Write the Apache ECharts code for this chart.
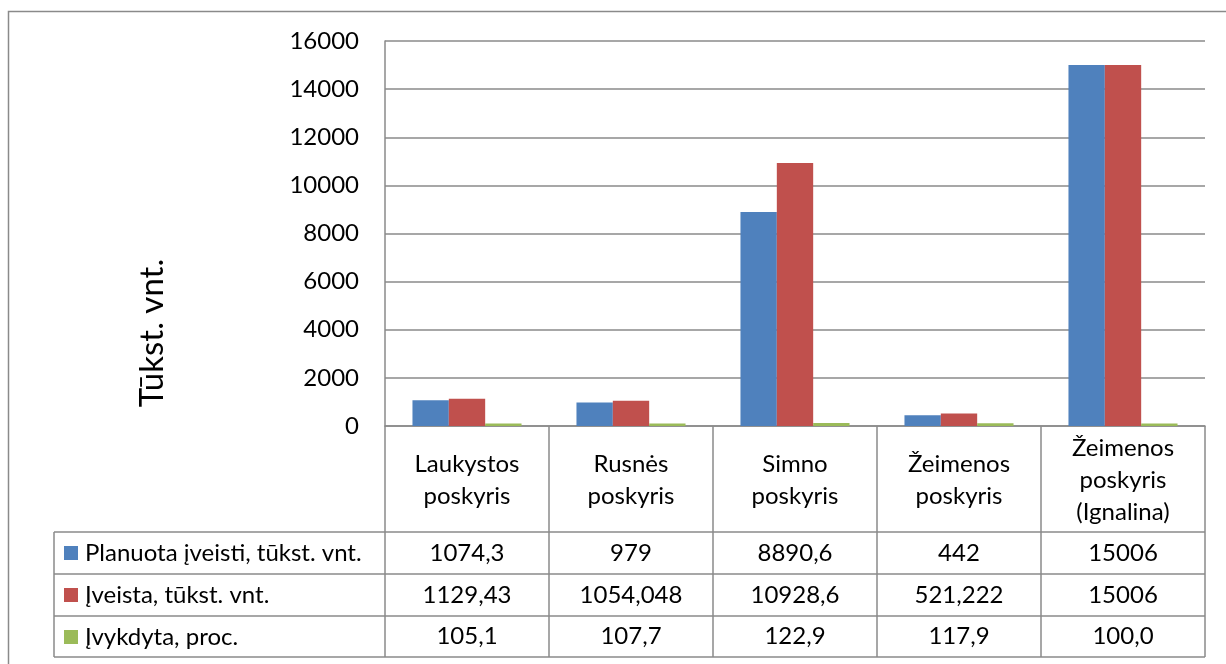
<!DOCTYPE html>
<html>
<head>
<meta charset="utf-8">
<script src="https://cdn.jsdelivr.net/npm/echarts@6/dist/echarts.min.js"></script>
<style>
html,body{margin:0;padding:0;background:#fff;}
#c{width:1226px;height:664px;}
</style>
</head>
<body>
<div id="c"></div>
<script>
var categories = ['Laukystos\nposkyris', 'Rusnės\nposkyris', 'Simno\nposkyris', 'Žeimenos\nposkyris', 'Žeimenos\nposkyris\n(Ignalina)'];
var seriesNames = ['Planuota įveisti, tūkst. vnt.', 'Įveista, tūkst. vnt.', 'Įvykdyta, proc.'];
var planned = [1074.3, 979, 8890.6, 442, 15006];
var planted = [1129.43, 1054.048, 10928.6, 521.222, 15006];
var percent = [105.1, 107.7, 122.9, 117.9, 100.0];
var yTitle = 'Tūkst. vnt.';

var FONT = 'Lato';
var FS = 24;
var GRAY = '#8a8a8a';
var colors = ['#4F81BD', '#C0504D', '#9BBB59'];

function fmt(v) { return String(v).replace('.', ','); }
function fmt1(v) { return v.toFixed(1).replace('.', ','); }

var rowPlanned = planned.map(fmt);
var rowPlanted = planted.map(fmt);
var rowPercent = percent.map(fmt1);

function tableAxis(data, margin) {
  return {
    type: 'category', gridIndex: 0, position: 'bottom', data: data,
    axisLine: {show: false}, axisTick: {show: false}, splitLine: {show: false},
    axisLabel: {interval: 0, margin: margin, verticalAlign: 'middle', color: '#000', fontFamily: FONT, fontSize: FS}
  };
}

var chart = echarts.init(document.getElementById('c'), null, {renderer: 'canvas'});
var option = {
  animation: false,
  color: colors,
  grid: {left: 385, right: 21, top: 41, bottom: 238, containLabel: false},
  legend: {
    orient: 'vertical', left: 64, top: 541, padding: 0,
    itemWidth: 14, itemHeight: 14, itemGap: 18, icon: 'rect', selectedMode: false,
    textStyle: {fontFamily: FONT, fontSize: FS, lineHeight: 24, color: '#000', padding: [0, 0, 0, 2]},
    data: seriesNames
  },
  xAxis: [
    {
      type: 'category', data: categories, gridIndex: 0, position: 'bottom',
      axisLine: {show: true, lineStyle: {color: GRAY, width: 1.5}},
      axisTick: {show: true, interval: 0, length: 231, lineStyle: {color: GRAY, width: 1.5}},
      axisLabel: {interval: 0, margin: 54, verticalAlign: 'middle', lineHeight: 32, color: '#000', fontFamily: FONT, fontSize: FS, align: 'center'}
    },
    tableAxis(rowPlanned, 127),
    tableAxis(rowPlanted, 169),
    tableAxis(rowPercent, 210)
  ],
  yAxis: {
    type: 'value', min: 0, max: 16000, interval: 2000,
    axisLine: {show: true, lineStyle: {color: GRAY, width: 1.5}},
    axisTick: {show: false},
    splitLine: {lineStyle: {color: GRAY, width: 1.5}},
    axisLabel: {margin: 26, color: '#000', fontFamily: FONT, fontSize: FS, formatter: function (v) { return String(v); }}
  },
  series: [
    {name: seriesNames[0], type: 'bar', xAxisIndex: 0, data: planned, barGap: '0%', barCategoryGap: '33.5%'},
    {name: seriesNames[1], type: 'bar', xAxisIndex: 0, data: planted, barGap: '0%', barCategoryGap: '33.5%'},
    {name: seriesNames[2], type: 'bar', xAxisIndex: 0, data: percent, barGap: '0%', barCategoryGap: '33.5%'}
  ],
  graphic: [
    {type: 'rect', silent: true, shape: {x: 8.5, y: 11.5, width: 1300, height: 700}, style: {fill: 'none', stroke: GRAY, lineWidth: 1.5}},
    {type: 'line', silent: true, shape: {x1: 54, y1: 532, x2: 1205, y2: 532}, style: {stroke: GRAY, lineWidth: 1.5}},
    {type: 'line', silent: true, shape: {x1: 54, y1: 574, x2: 1205, y2: 574}, style: {stroke: GRAY, lineWidth: 1.5}},
    {type: 'line', silent: true, shape: {x1: 54, y1: 616, x2: 1205, y2: 616}, style: {stroke: GRAY, lineWidth: 1.5}},
    {type: 'line', silent: true, shape: {x1: 54, y1: 657, x2: 1205, y2: 657}, style: {stroke: GRAY, lineWidth: 1.5}},
    {type: 'line', silent: true, shape: {x1: 54, y1: 532, x2: 54, y2: 657}, style: {stroke: GRAY, lineWidth: 1.5}},
    {type: 'text', silent: true, x: 152, y: 333, rotation: Math.PI / 2,
      style: {text: yTitle, fontFamily: FONT, fontSize: 33, fill: '#000', textAlign: 'center', textVerticalAlign: 'middle'}}
  ]
};
chart.setOption(option);
</script>
</body>
</html>
